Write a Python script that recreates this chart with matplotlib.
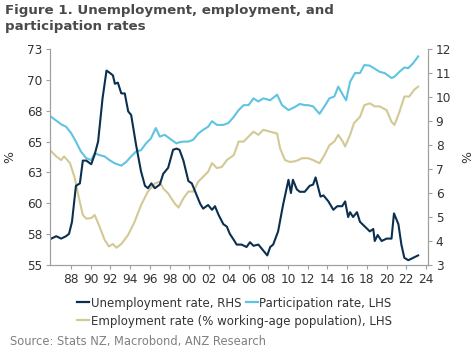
import matplotlib
matplotlib.use("Agg")
import matplotlib.pyplot as plt
from matplotlib.lines import Line2D

# ---------------- data ----------------
unemp_years = [1986.0, 1986.5, 1987.0, 1987.5, 1987.8, 1988.1, 1988.5, 1988.9, 1989.2, 1989.55,
               1990.05, 1990.4, 1990.75, 1991.2, 1991.6, 1991.95, 1992.25, 1992.45, 1992.75, 1993.1,
               1993.45, 1993.8, 1994.1, 1994.6, 1995.1, 1995.5, 1995.8, 1996.15, 1996.5, 1997.0,
               1997.35, 1997.85, 1998.35, 1998.7, 1999.0, 1999.4, 1999.9, 2000.25, 2000.6, 2001.1,
               2001.4, 2001.9, 2002.3, 2002.6, 2002.95, 2003.45, 2003.8, 2004.1, 2004.5, 2004.8,
               2005.3, 2005.8, 2006.15, 2006.5, 2007.0, 2007.5, 2007.9, 2008.2, 2008.5, 2009.0,
               2009.5, 2010.05, 2010.3, 2010.5, 2010.9, 2011.2, 2011.7, 2012.2, 2012.55, 2012.8,
               2013.05, 2013.3, 2013.6, 2014.1, 2014.6, 2015.0, 2015.5, 2015.8, 2016.1, 2016.3,
               2016.6, 2017.0, 2017.3, 2017.8, 2018.3, 2018.65, 2018.8, 2019.1, 2019.5, 2020.0,
               2020.5, 2020.75, 2021.2, 2021.5, 2021.8, 2022.2, 2022.7, 2023.2]
unemp_rate = [4.1, 4.2, 4.1, 4.2, 4.3, 4.8, 6.3, 6.4, 7.35, 7.35,
              7.2, 7.6, 8.15, 9.95, 11.1, 11.0, 10.9, 10.55, 10.6, 10.15,
              10.15, 9.4, 9.25, 8.0, 6.9, 6.3, 6.2, 6.4, 6.2, 6.35,
              6.8, 7.05, 7.8, 7.85, 7.8, 7.35, 6.5, 6.4, 6.05, 5.55,
              5.35, 5.5, 5.3, 5.45, 5.1, 4.7, 4.6, 4.3, 4.05, 3.85,
              3.85, 3.75, 3.95, 3.8, 3.85, 3.6, 3.4, 3.75, 3.85, 4.4,
              5.5, 6.55, 6.0, 6.55, 6.15, 6.05, 6.05, 6.3, 6.35, 6.65,
              6.25, 5.85, 5.9, 5.65, 5.3, 5.45, 5.45, 5.65, 5.0, 5.2,
              5.0, 5.2, 4.8, 4.6, 4.4, 4.5, 4.0, 4.25, 4.0, 4.1,
              4.1, 5.15, 4.7, 3.85, 3.3, 3.2, 3.3, 3.4]

part_years = [1986.0, 1986.5, 1987.0, 1987.5, 1988.0, 1988.5, 1989.0, 1989.55, 1990.05, 1990.4,
              1990.9, 1991.4, 1991.9, 1992.4, 1993.1, 1993.6, 1994.1, 1994.6, 1995.1, 1995.6,
              1996.1, 1996.6, 1997.0, 1997.5, 1998.0, 1998.7, 1999.0, 1999.4, 1999.9, 2000.4,
              2000.9, 2001.4, 2001.9, 2002.3, 2002.8, 2003.45, 2003.95, 2004.5, 2005.0, 2005.5,
              2006.0, 2006.5, 2007.0, 2007.5, 2008.2, 2008.9, 2009.4, 2010.05, 2010.7, 2011.2,
              2011.7, 2012.05, 2012.55, 2013.2, 2013.7, 2014.2, 2014.7, 2015.1, 2015.55, 2015.9,
              2016.3, 2016.8, 2017.3, 2017.75, 2018.3, 2018.8, 2019.3, 2019.8, 2020.5, 2020.8,
              2021.3, 2021.8, 2022.2, 2022.7, 2023.2]
part_rate = [67.0, 66.7, 66.4, 66.2, 65.7, 65.0, 64.2, 63.65, 63.5, 64.05,
             63.9, 63.8, 63.5, 63.25, 63.05, 63.35, 63.8, 64.2, 64.3, 64.85,
             65.25, 66.1, 65.4, 65.55, 65.25, 64.85, 64.95, 65.0, 65.0, 65.15,
             65.65, 65.95, 66.2, 66.65, 66.35, 66.35, 66.5, 67.0, 67.55, 67.95,
             67.95, 68.5, 68.25, 68.5, 68.35, 68.8, 67.95, 67.55, 67.8, 68.05,
             67.95, 67.95, 67.85, 67.25, 67.85, 68.5, 68.65, 69.45, 68.8, 68.35,
             69.85, 70.55, 70.55, 71.2, 71.15, 70.9, 70.65, 70.55, 70.15, 70.25,
             70.65, 71.0, 70.95, 71.35, 71.9]

emp_years = [1986.0, 1986.5, 1987.0, 1987.3, 1987.9, 1988.4, 1988.7, 1989.2, 1989.55, 1990.05,
             1990.4, 1990.9, 1991.4, 1991.85, 1992.25, 1992.6, 1993.1, 1993.8, 1994.45, 1995.1,
             1995.8, 1996.5, 1997.0, 1997.35, 1997.85, 1998.5, 1998.9, 1999.4, 1999.9, 2000.4,
             2000.9, 2001.4, 2001.9, 2002.3, 2002.8, 2003.3, 2003.8, 2004.5, 2005.0, 2005.5,
             2006.0, 2006.5, 2007.0, 2007.5, 2008.2, 2008.9, 2009.2, 2009.7, 2010.2, 2010.7,
             2011.05, 2011.4, 2012.05, 2012.55, 2013.2, 2013.7, 2014.2, 2014.7, 2015.1, 2015.55,
             2015.8, 2016.3, 2016.7, 2017.3, 2017.75, 2018.3, 2018.8, 2019.3, 2020.0, 2020.5,
             2020.8, 2021.3, 2021.8, 2022.3, 2022.8, 2023.2]
emp_rate = [64.2, 63.8, 63.5, 63.8, 63.25, 62.0, 60.8, 59.05, 58.75, 58.8,
            59.05, 58.1, 57.05, 56.5, 56.7, 56.4, 56.7, 57.45, 58.5, 59.85,
            60.95, 61.6, 61.75, 61.2, 60.8, 60.0, 59.65, 60.4, 60.95, 60.95,
            61.75, 62.15, 62.55, 63.25, 62.85, 62.95, 63.5, 63.9, 65.0, 65.0,
            65.4, 65.8, 65.55, 65.95, 65.8, 65.65, 64.45, 63.5, 63.35, 63.4,
            63.5, 63.65, 63.65, 63.5, 63.25, 63.9, 64.7, 65.0, 65.55, 65.0,
            64.6, 65.55, 66.5, 67.0, 67.95, 68.1, 67.85, 67.85, 67.55, 66.6,
            66.35, 67.4, 68.65, 68.65, 69.2, 69.45]

x_ticks = list(range(1988, 2025, 2))
x_tick_labels = ['88', '90', '92', '94', '96', '98', '00', '02', '04', '06',
                 '08', '10', '12', '14', '16', '18', '20', '22', '24']
left_ticks = [55, 57.5, 60, 62.5, 65, 67.5, 70, 72.5]
left_tick_labels = ['55', '58', '60', '63', '65', '68', '70', '73']
right_ticks = [3, 4, 5, 6, 7, 8, 9, 10, 11, 12]

# ---------------- style ----------------
plt.rcParams['font.family'] = ['DejaVu Sans']
NAVY = '#0b2f4f'
LBLUE = '#5fc4e0'
KHAKI = '#d2c995'
AX = '#a0a0a0'
TXT = '#333333'

W, H = 474, 356
fig = plt.figure(figsize=(W / 100, H / 100), dpi=100)
ax = fig.add_axes([50 / W, 1 - 265 / H, (428 - 50) / W, (265 - 49) / H])
ax2 = ax.twinx()

lw = 1.5
lp, = ax.plot(part_years, part_rate, color=LBLUE, lw=lw)
le, = ax.plot(emp_years, emp_rate, color=KHAKI, lw=lw)
lu, = ax2.plot(unemp_years, unemp_rate, color=NAVY, lw=lw)

ax.set_xlim(1985.87, 2024.2)
ax.set_ylim(55, 72.5)
ax2.set_ylim(3, 12)
ax.set_xticks(x_ticks)
ax.set_xticklabels(x_tick_labels)
ax.set_yticks(left_ticks)
ax.set_yticklabels(left_tick_labels)
ax2.set_yticks(right_ticks)

for a in (ax, ax2):
    a.spines['top'].set_visible(False)
    for s in ('left', 'right', 'bottom'):
        a.spines[s].set_color(AX)
        a.spines[s].set_linewidth(0.8)
    a.tick_params(axis='both', colors=AX, labelcolor=TXT, labelsize=8.7,
                  length=3, width=0.8, direction='out', pad=2.5)

ax.set_ylabel('%', color=TXT, fontsize=9, labelpad=8)
ax2.set_ylabel('%', color=TXT, fontsize=9, labelpad=7)

fig.text(5 / W, 1 - 4 / H, 'Figure 1. Unemployment, employment, and\nparticipation rates',
         ha='left', va='top', fontsize=9.6, fontweight='bold', color='#4a4a4a',
         linespacing=1.3)

h_u = Line2D([], [], color=NAVY, lw=1.6)
h_p = Line2D([], [], color=LBLUE, lw=1.6)
h_e = Line2D([], [], color=KHAKI, lw=1.6)
common = dict(frameon=False, fontsize=8.5, handlelength=1.0, handletextpad=0.15,
              columnspacing=0.4, borderpad=0, borderaxespad=0, labelcolor=TXT)
leg1 = fig.legend([h_u, h_p], ['Unemployment rate, RHS', 'Participation rate, LHS'],
                  loc='center left', bbox_to_anchor=(77 / W, 1 - 303 / H), ncol=2, **common)
leg2 = fig.legend([h_e], ['Employment rate (% working-age population), LHS'],
                  loc='center left', bbox_to_anchor=(77 / W, 1 - 321 / H), ncol=1, **common)

fig.text(10 / W, 1 - 342 / H, 'Source: Stats NZ, Macrobond, ANZ Research',
         ha='left', va='center', fontsize=8.3, color='#808080')

fig.savefig('out.png', dpi=100)
